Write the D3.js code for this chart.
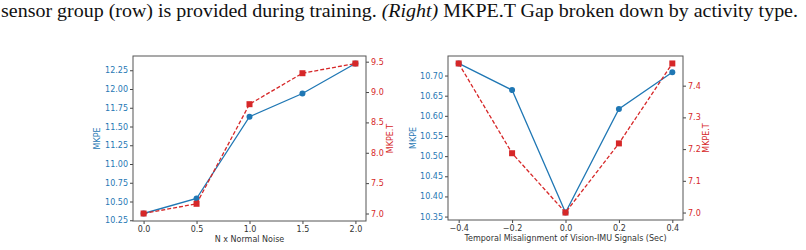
<!DOCTYPE html>
<html>
<head>
<meta charset="utf-8">
<script src="https://cdn.jsdelivr.net/npm/d3@7"></script>
<style>
  body { margin: 0; background: #fff; }
  svg text { font-family: "DejaVu Sans", sans-serif; }
</style>
</head>
<body>
<svg id="chart" width="806" height="250"></svg>
<script>
// left panel: noise level
var noiseX = [0.0, 0.5, 1.0, 1.5, 2.0];
var noiseMKPE = [10.34, 10.54, 11.63, 11.94, 12.34];
var noiseMKPET = [7.0, 7.16, 8.80, 9.31, 9.47];
var noiseXTicks = [0.0, 0.5, 1.0, 1.5, 2.0];
var noiseLeftTicks = [10.25, 10.5, 10.75, 11.0, 11.25, 11.5, 11.75, 12.0, 12.25];
var noiseRightTicks = [7.0, 7.5, 8.0, 8.5, 9.0, 9.5];

// right panel: temporal misalignment
var shiftX = [-0.4, -0.2, 0.0, 0.2, 0.4];
var shiftMKPE = [10.73, 10.664, 10.36, 10.617, 10.708];
var shiftMKPET = [7.47, 7.187, 7.0, 7.218, 7.47];
var shiftXTicks = [-0.4, -0.2, 0.0, 0.2, 0.4];
var shiftLeftTicks = [10.35, 10.40, 10.45, 10.50, 10.55, 10.60, 10.65, 10.70];
var shiftRightTicks = [7.0, 7.1, 7.2, 7.3, 7.4];

var blue = "#1f77b4", red = "#d62728";
var fs = "8px";
var svg = d3.select("#chart");

svg.append("text")
  .attr("x", 1).attr("y", 17)
  .attr("textLength", 797).attr("lengthAdjust", "spacingAndGlyphs")
  .style("font-family", "'Liberation Serif', serif")
  .style("font-size", "19px")
  .attr("fill", "#111")
  .html('sensor group (row) is provided during training. <tspan font-style="italic">(Right)</tspan> MKPE.T Gap broken down by activity type.');

function pad(ext) {
  var m = (ext[1] - ext[0]) * 0.05;
  return [ext[0] - m, ext[1] + m];
}

function minusFmt(f) {
  return function(d) { return d3.format(f)(d).replace("-", "\u2212"); };
}

function panel(cfg) {
  var g = svg.append("g");
  var x = d3.scaleLinear().domain(pad(d3.extent(cfg.xs))).range([cfg.x0, cfg.x1]);
  var yl = d3.scaleLinear().domain(pad(d3.extent(cfg.a))).range([cfg.y1, cfg.y0]);
  var yr = d3.scaleLinear().domain(pad(d3.extent(cfg.b))).range([cfg.y1, cfg.y0]);

  var ax = g.append("g").attr("transform", "translate(0," + cfg.y1 + ")")
    .call(d3.axisBottom(x).tickValues(cfg.xt).tickFormat(minusFmt(".1f")).tickSize(3).tickSizeOuter(0).tickPadding(2));
  ax.selectAll("text").attr("fill", "#333").style("font-size", fs);
  ax.selectAll("line").attr("stroke", "#444");

  var al = g.append("g").attr("transform", "translate(" + cfg.x0 + ",0)")
    .call(d3.axisLeft(yl).tickValues(cfg.lt).tickFormat(d3.format(".2f")).tickSize(3).tickSizeOuter(0).tickPadding(2));
  al.selectAll("text").attr("fill", blue).style("font-size", fs);
  al.selectAll("line").attr("stroke", "#444");

  var ar = g.append("g").attr("transform", "translate(" + cfg.x1 + ",0)")
    .call(d3.axisRight(yr).tickValues(cfg.rt).tickFormat(d3.format(".1f")).tickSize(3).tickSizeOuter(0).tickPadding(2));
  ar.selectAll("text").attr("fill", red).style("font-size", fs);
  ar.selectAll("line").attr("stroke", "#444");

  g.selectAll(".domain").remove();
  g.append("rect")
    .attr("x", cfg.x0).attr("y", cfg.y0)
    .attr("width", cfg.x1 - cfg.x0).attr("height", cfg.y1 - cfg.y0)
    .attr("fill", "none").attr("stroke", "#555").attr("stroke-width", 1);

  var lineL = d3.line().x(function(d, i) { return x(cfg.xs[i]); }).y(function(d) { return yl(d); });
  var lineR = d3.line().x(function(d, i) { return x(cfg.xs[i]); }).y(function(d) { return yr(d); });

  g.append("path").datum(cfg.a).attr("d", lineL)
    .attr("fill", "none").attr("stroke", blue).attr("stroke-width", 1.3);
  g.selectAll(".dot").data(cfg.a).enter().append("circle")
    .attr("cx", function(d, i) { return x(cfg.xs[i]); })
    .attr("cy", function(d) { return yl(d); })
    .attr("r", 3).attr("fill", blue);

  g.append("path").datum(cfg.b).attr("d", lineR)
    .attr("fill", "none").attr("stroke", red).attr("stroke-width", 1.3)
    .attr("stroke-dasharray", "4,2");
  g.selectAll(".sq").data(cfg.b).enter().append("rect")
    .attr("x", function(d, i) { return x(cfg.xs[i]) - 3; })
    .attr("y", function(d) { return yr(d) - 3; })
    .attr("width", 6).attr("height", 6).attr("fill", red);

  g.append("text")
    .attr("x", (cfg.x0 + cfg.x1) / 2).attr("y", cfg.y1 + 21)
    .attr("text-anchor", "middle").attr("fill", "#333").style("font-size", fs)
    .text(cfg.xlabel);

  g.append("text")
    .attr("transform", "translate(" + cfg.ll + "," + (cfg.y0 + cfg.y1) / 2 + ") rotate(-90)")
    .attr("text-anchor", "middle").attr("fill", blue).style("font-size", fs)
    .text("MKPE");

  g.append("text")
    .attr("transform", "translate(" + cfg.rl + "," + (cfg.y0 + cfg.y1) / 2 + ") rotate(-90)")
    .attr("text-anchor", "middle").attr("fill", red).style("font-size", fs)
    .text("MKPE.T");
}

panel({
  xs: noiseX, a: noiseMKPE, b: noiseMKPET,
  xt: noiseXTicks, lt: noiseLeftTicks, rt: noiseRightTicks,
  x0: 133, x1: 366, y0: 56, y1: 221,
  ll: 100, rl: 393,
  xlabel: "N x Normal Noise"
});

panel({
  xs: shiftX, a: shiftMKPE, b: shiftMKPET,
  xt: shiftXTicks, lt: shiftLeftTicks, rt: shiftRightTicks,
  x0: 448, x1: 683, y0: 56, y1: 220,
  ll: 416, rl: 709,
  xlabel: "Temporal Misalignment of Vision-IMU Signals (Sec)"
});
</script>
</body>
</html>
